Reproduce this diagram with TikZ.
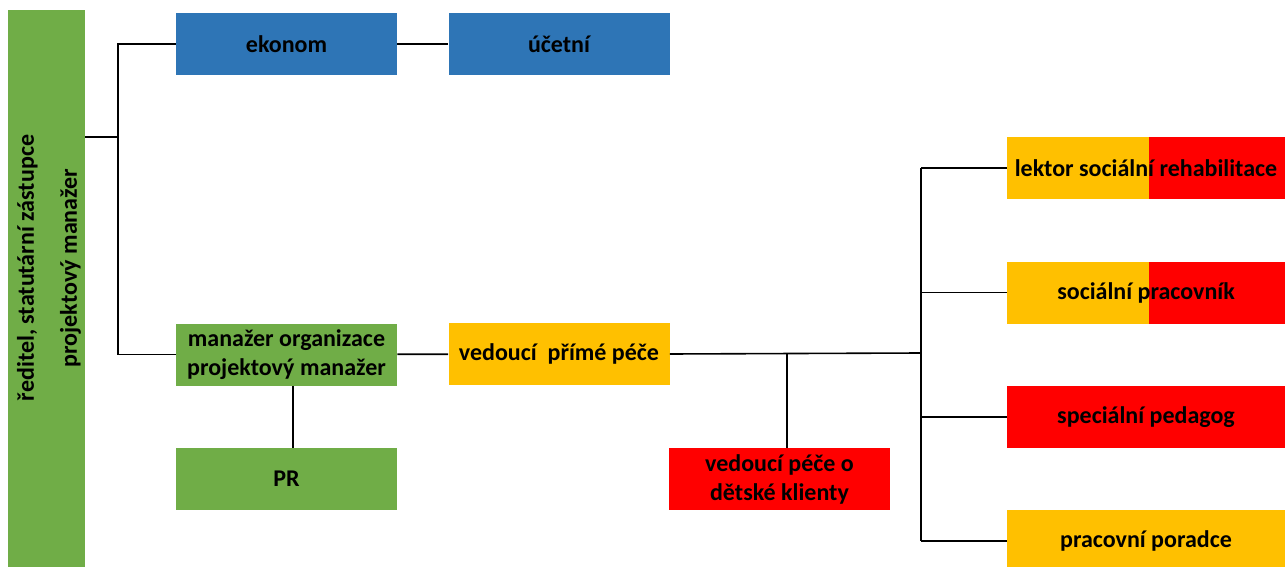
\documentclass[tikz,border=0pt]{standalone}
\usepackage{fontspec}
\setmainfont{Carlito}
\usepackage{tikz}
\usetikzlibrary{positioning}
\definecolor{orgGreen}{HTML}{70AD47}
\definecolor{orgBlue}{HTML}{2E75B6}
\definecolor{orgOrange}{HTML}{FFC000}
\definecolor{orgRed}{HTML}{FF0000}
\tikzset{
    basic/.style  = {rectangle, inner sep=0pt, align=center, font=\fontsize{12}{14.5}\selectfont\bfseries},
    unit/.style   = {basic, minimum width=110.5pt, minimum height=31pt},
    wide unit/.style = {basic, minimum width=139pt, minimum height=31pt},
    green unit/.style = {unit, fill=orgGreen},
    blue unit/.style  = {unit, fill=orgBlue},
    orange unit/.style = {unit, fill=orgOrange},
    red unit/.style   = {unit, fill=orgRed},
    split unit/.style = {wide unit, fill=orgOrange,
        path picture={\fill[orgRed] ([xshift=71pt]path picture bounding box.south west) rectangle (path picture bounding box.north east);}},
    link/.style = {draw, black, line width=0.8pt}
}

\begin{document}
\begin{tikzpicture}[x=0.5pt, y=-0.5pt]
	\useasboundingbox (0,0) rectangle (1285,567);
	% vedeni
	\node[basic, fill=orgGreen, minimum width=38.5pt, minimum height=278.5pt] (boss) at (46.5,288.5) {};
	\node[basic, rotate=90, font=\fontsize{12}{21.5}\selectfont\bfseries] (bosstext) at (49,268) {ředitel, statutární zástupce\\projektový manažer};
	% ekonomika
	\node[blue unit] (ekonom) at (286.5,44) {ekonom};
	\node[blue unit] (ucetni) at (559,44) {účetní};
	% organizace
	\node[green unit] (manazer) at (286.5,354.5) {manažer organizace\\projektový manažer};
	\node[green unit] (pr) at (286.5,479) {PR};
	\node[orange unit] (vedouci) at (559,354) {vedoucí\ \ přímé péče};
	\node[red unit] (detske) at (779.5,479) {vedoucí péče o\\dětské klienty};
	% prima pece
	\node[split unit] (lektor) at (1146,168) {lektor sociální rehabilitace};
	\node[split unit] (socprac) at (1146,292.5) {sociální pracovník};
	\node[wide unit, fill=orgRed] (pedagog) at (1146,417) {speciální pedagog};
	\node[wide unit, fill=orgOrange] (poradce) at (1146,541) {pracovní poradce};
	% uzly
	\coordinate (j1) at (118,137);
	\coordinate (j2) at (921,353);
	\coordinate (j3) at (787,353);
	% spoje
	\draw[link] (boss.east |- j1) -- (j1);
	\draw[link] (ekonom.west) -| (j1);
	\draw[link] (manazer.west) -| (j1);
	\draw[link] (ekonom) -- (ucetni);
	\draw[link] (manazer) -- (vedouci);
	\draw[link] (manazer.south -| 293,0) -- (pr.north -| 293,0);
	\draw[link] (vedouci.east) -- (j2);
	\draw[link] (j3) -- (j3 |- detske.north);
	\draw[link] (j2 |- lektor.west) -- (j2 |- poradce.west);
	\foreach \n in {lektor,socprac,pedagog,poradce}
		\draw[link] (j2 |- \n.west) -- (\n.west);
\end{tikzpicture}
\end{document}
